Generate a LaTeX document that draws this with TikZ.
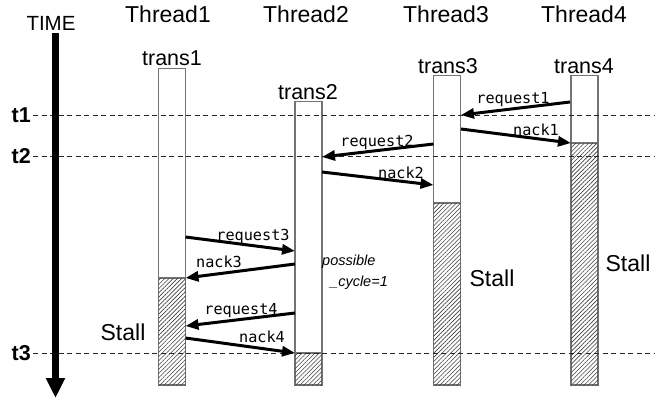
\documentclass[tikz,border=0pt]{standalone}
\usepackage{fontspec}
\setmainfont{Liberation Sans}
\newfontfamily\monofont{DejaVu Sans Mono}
\usetikzlibrary{arrows.meta,patterns.meta}
\begin{document}
\begin{tikzpicture}[x=1pt,y=-1pt,
  bar/.style={draw=black!55,line width=1.1pt,fill=white,minimum width=27pt,inner sep=0pt,anchor=north},
  hatch/.style={draw=black!55,line width=1.1pt,fill=white,postaction={pattern={Lines[angle=45,distance=3pt,line width=0.6pt]},pattern color=black!75}},
  tline/.style={draw=black!85,line width=0.8pt,dash pattern=on 5pt off 3.5pt},
  msg/.style={draw=black,line width=3pt,-{Triangle[length=13pt,width=10pt]}},
  timearrow/.style={draw=black,line width=7pt,-{Triangle[length=20pt,width=18pt]}},
  msglab/.style={font=\monofont\fontsize{15.2}{15.2}\selectfont,inner sep=0pt,anchor=base},
  thead/.style={font=\fontsize{23}{23}\selectfont,inner sep=0pt},
  translab/.style={font=\fontsize{21.5}{21.5}\selectfont,inner sep=0pt},
  stall/.style={font=\fontsize{23}{23}\selectfont,inner sep=0pt},
  tlab/.style={font=\bfseries\fontsize{21.5}{21.5}\selectfont,inner sep=0pt,anchor=east},
  note/.style={font=\itshape\fontsize{14.5}{14.5}\selectfont,inner sep=0pt,anchor=base west}
]
\useasboundingbox (0,0) rectangle (670,405);

% thread headings
\node[thead] (th1) at (168,14) {Thread1};
\node[thead] (th2) at (306,14) {Thread2};
\node[thead] (th3) at (446,14) {Thread3};
\node[thead] (th4) at (584,14) {Thread4};
\node[font=\fontsize{20.5}{20.5}\selectfont,inner sep=0pt] (time) at (51,23) {TIME};

% transaction bars
\node[bar,minimum height=317pt] (b1) at (172,68) {};
\node[bar,minimum height=284pt] (b2) at (308.5,101) {};
\node[bar,minimum height=310pt] (b3) at (447,75) {};
\node[bar,minimum height=310pt] (b4) at (584.5,75) {};
\path[hatch] (158.5,278) rectangle (185.5,385);
\path[hatch] (295,353) rectangle (322,385);
\path[hatch] (433.5,203) rectangle (460.5,385);
\path[hatch] (571,143) rectangle (598,385);

\node[translab] (tr1) at (172,58) {trans1};
\node[translab] (tr2) at (308,92) {trans2};
\node[translab] (tr3) at (448,66) {trans3};
\node[translab] (tr4) at (584,66) {trans4};

% time marks
\node[tlab] (t1) at (31,115) {t1};
\node[tlab] (t2) at (31,156) {t2};
\node[tlab] (t3) at (31,353) {t3};
\coordinate (t1e) at (655,115);
\coordinate (t2e) at (655,156);
\coordinate (t3e) at (655,353);
\draw[tline] ([xshift=2pt]t1.east) -- (t1e);
\draw[tline] ([xshift=2pt]t2.east) -- (t2e);
\draw[tline] ([xshift=2pt]t3.east) -- (t3e);

% time axis
\coordinate (tstart) at (55.5,33);
\coordinate (tend) at (55.5,398);
\draw[timearrow] (tstart) -- (tend);

% message end points
\coordinate (q1s) at (570,102);   \coordinate (q1e) at (461,115);
\coordinate (n1s) at (461,129);   \coordinate (n1e) at (571,143);
\coordinate (q2s) at (433.5,144); \coordinate (q2e) at (322,157);
\coordinate (n2s) at (322,172);   \coordinate (n2e) at (433.5,185);
\coordinate (q3s) at (185.5,237); \coordinate (q3e) at (295,251);
\coordinate (n3s) at (295,264);   \coordinate (n3e) at (185.5,278);
\coordinate (q4s) at (295,313);   \coordinate (q4e) at (185.5,326);
\coordinate (n4s) at (185.5,338); \coordinate (n4e) at (295,353);

\draw[msg] (q1s) -- (q1e);
\draw[msg] (n1s) -- (n1e);
\draw[msg] (q2s) -- (q2e);
\draw[msg] (n2s) -- (n2e);
\draw[msg] (q3s) -- (q3e);
\draw[msg] (n3s) -- (n3e);
\draw[msg] (q4s) -- (q4e);
\draw[msg] (n4s) -- (n4e);

\node[msglab] (lq1) at (513,103) {request1};
\node[msglab] (ln1) at (536,135) {nack1};
\node[msglab] (lq2) at (377,146) {request2};
\node[msglab] (ln2) at (401,178) {nack2};
\node[msglab] (lq3) at (253,240) {request3};
\node[msglab] (ln3) at (219,267) {nack3};
\node[msglab] (lq4) at (241,314) {request4};
\node[msglab] (ln4) at (262,342) {nack4};

% notes
\node[note] (pc1) at (322,265) {possible};
\node[note] (pc2) at (330,286) {\_cycle=1};
\node[stall] (s1) at (123,332) {Stall};
\node[stall] (s3) at (492,278) {Stall};
\node[stall] (s4) at (628,263) {Stall};
\end{tikzpicture}
\end{document}
